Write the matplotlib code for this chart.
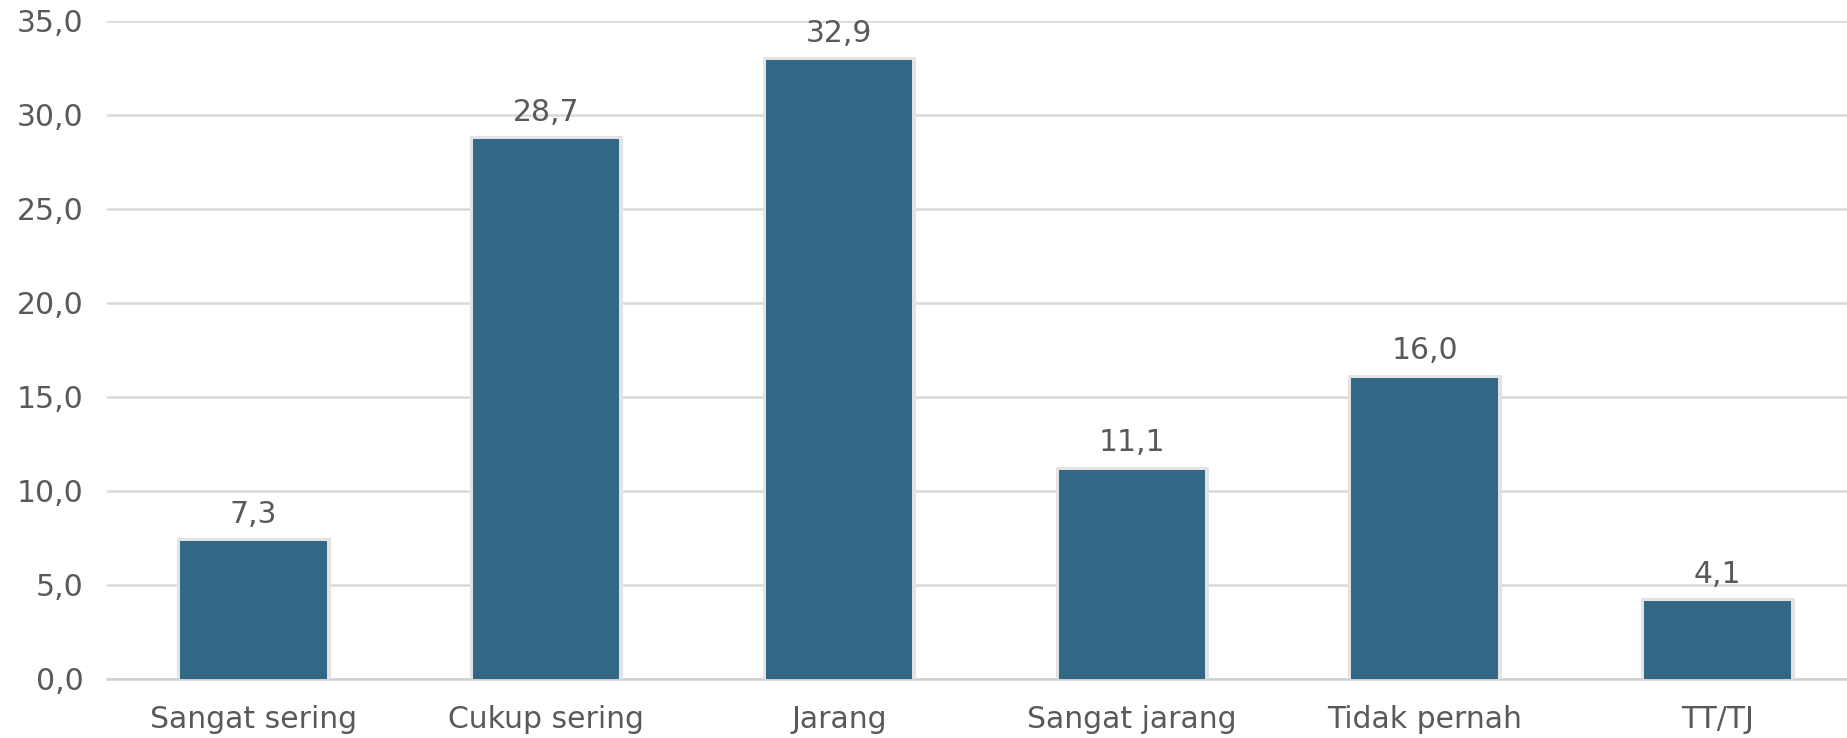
import matplotlib
matplotlib.use("Agg")
import matplotlib.pyplot as plt
import matplotlib.patheffects as pe

categories = ["Sangat sering", "Cukup sering", "Jarang", "Sangat jarang", "Tidak pernah", "TT/TJ"]
values = [7.3, 28.7, 32.9, 11.1, 16.0, 4.1]
yticks = [0, 5, 10, 15, 20, 25, 30, 35]

plt.rcParams['font.family'] = ['DejaVu Sans']
text_color = '#595959'
bar_color = '#326886'

W, H = 1847, 738
fig = plt.figure(figsize=(W / 100, H / 100), dpi=100)
left = 107 / W
width = 6 * 292.8 / W
bottom = 1 - 678.5 / H
top = 1 - 21 / H
ax = fig.add_axes([left, bottom, width, top - bottom])

x = list(range(len(categories)))
bars = ax.bar(x, values, width=0.5, color=bar_color, zorder=3, linewidth=0,
              path_effects=[pe.withStroke(linewidth=5, foreground='#e3e3e3'), pe.Normal()])

fs = 21.5
for xi, v in zip(x, values):
    ax.annotate(f"{v:.1f}".replace('.', ','), (xi, v), xytext=(0, 9), textcoords='offset points',
                ha='center', va='bottom', fontsize=fs, color=text_color)

ax.set_xlim(-0.5, len(categories) - 0.5)
ax.set_ylim(0, 35)
ax.set_yticks(yticks)
ax.set_yticklabels([f"{t:.1f}".replace('.', ',') for t in yticks], fontsize=fs, color=text_color)
ax.set_xticks(x)
ax.set_xticklabels(categories, fontsize=fs, color=text_color)
ax.tick_params(axis='both', length=0)
ax.tick_params(axis='y', pad=17)
ax.tick_params(axis='x', pad=19)
ax.yaxis.grid(True, color='#d9d9d9', linewidth=1.8, zorder=0)
ax.set_axisbelow(True)
for s in ['top', 'right', 'left']:
    ax.spines[s].set_visible(False)
ax.spines['bottom'].set_color('#d0d0d0')
ax.spines['bottom'].set_linewidth(1.8)

fig.savefig("out.png", dpi=100)
